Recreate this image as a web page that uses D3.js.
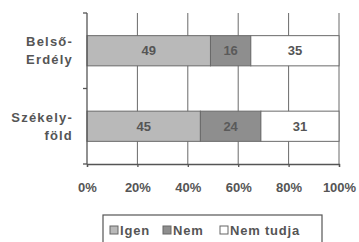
<!DOCTYPE html>
<html>
<head>
<meta charset="utf-8">
<script src="https://cdn.jsdelivr.net/npm/d3@7"></script>
<style>
  body { margin: 0; background: #fff; }
  text { font-family: "Liberation Sans", Arial, sans-serif; font-weight: bold; fill: #555; }
</style>
</head>
<body>
<svg id="chart"></svg>
<script>
// data
const categories = [["Belső-", "Erdély"], ["Székely-", "föld"]];
const seriesNames = ["Igen", "Nem", "Nem tudja"];
const igen = [49, 45];
const nem = [16, 24];
const nemTudja = [35, 31];
const tickValues = [0, 20, 40, 60, 80, 100];
const colors = ["#b9b9b9", "#8e8e8e", "#ffffff"];

const margin = {top: 13, right: 20, bottom: 78, left: 87},
    width = 359 - margin.left - margin.right,
    height = 242 - margin.top - margin.bottom;

const svgRoot = d3.select("#chart")
    .attr("width", 359)
    .attr("height", 242);
const svg = svgRoot.append("g")
    .attr("transform", "translate(" + margin.left + "," + margin.top + ")");

const x = d3.scaleLinear().domain([0, 100]).range([0, width]);
const y = d3.scaleBand().domain([0, 1]).range([0, height]).paddingInner(0.6).paddingOuter(0.3);
const yOuter = d3.scaleBand().domain([0, 1]).range([0, height]);

// gridlines
svg.selectAll("line.grid")
    .data(tickValues.slice(1))
    .enter().append("line")
    .attr("x1", d => x(d)).attr("x2", d => x(d))
    .attr("y1", 0).attr("y2", height)
    .attr("stroke", "#6a6a6a").attr("stroke-width", 1);

// stacked bars
const rows = categories.map((c, i) => [igen[i], nem[i], nemTudja[i]]);
rows.forEach(function(vals, i) {
    let acc = 0;
    vals.forEach(function(v, j) {
        svg.append("rect")
            .attr("x", x(acc))
            .attr("y", y(i))
            .attr("width", x(acc + v) - x(acc))
            .attr("height", y.bandwidth())
            .attr("fill", colors[j])
            .attr("stroke", "#6a6a6a")
            .attr("stroke-width", 1);
        svg.append("text")
            .attr("x", x(acc + v / 2))
            .attr("y", y(i) + y.bandwidth() / 2)
            .attr("dy", "0.36em")
            .attr("text-anchor", "middle")
            .style("font-size", "13px")
            .style("fill", j === 1 ? "#5a5a5a" : "#555")
            .text(v);
        acc += v;
    });
});

// left axis
svg.append("line")
    .attr("x1", 0).attr("x2", 0).attr("y1", 0).attr("y2", height)
    .attr("stroke", "#555").attr("stroke-width", 1.3);
[0, height / 2, height].forEach(function(t) {
    svg.append("line")
        .attr("x1", -4).attr("x2", 0).attr("y1", t).attr("y2", t)
        .attr("stroke", "#555").attr("stroke-width", 1.3);
});

// bottom axis
const xAxis = svg.append("g")
    .attr("transform", "translate(0," + height + ")")
    .call(d3.axisBottom(x).tickValues(tickValues).tickSize(3).tickPadding(16).tickFormat(d => d + "%"));
xAxis.select(".domain").attr("stroke", "#555").attr("stroke-width", 1.3);
xAxis.selectAll(".tick line").attr("stroke", "#555").attr("stroke-width", 1.3);
xAxis.selectAll("text")
    .style("font-size", "13px")
    .style("font-family", "'Liberation Sans', Arial, sans-serif")
    .style("font-weight", "bold")
    .attr("fill", "#555");

// category labels
categories.forEach(function(lines, i) {
    const cy = yOuter(i) + yOuter.bandwidth() / 2;
    const t = svg.append("text")
        .attr("x", -14)
        .attr("y", cy - 9)
        .attr("text-anchor", "end")
        .style("font-size", "13px")
        .style("letter-spacing", "1.2px");
    lines.forEach(function(l, k) {
        t.append("tspan")
            .attr("x", -14)
            .attr("dy", k === 0 ? "0.36em" : "18px")
            .text(l);
    });
});

// legend
const legend = svgRoot.append("g").attr("transform", "translate(103,215)");
legend.append("rect")
    .attr("width", 219).attr("height", 30)
    .attr("fill", "#fff").attr("stroke", "#555").attr("stroke-width", 1.2);
const legX = [7, 60, 117];
seriesNames.forEach(function(name, i) {
    const g = legend.append("g").attr("transform", "translate(" + legX[i] + ",11)");
    g.append("rect")
        .attr("width", 8).attr("height", 8)
        .attr("fill", colors[i]).attr("stroke", "#666").attr("stroke-width", 1);
    g.append("text")
        .attr("x", 10).attr("y", 8.5)
        .style("font-size", "13px")
        .style("letter-spacing", "0.8px")
        .text(name);
});
</script>
</body>
</html>
